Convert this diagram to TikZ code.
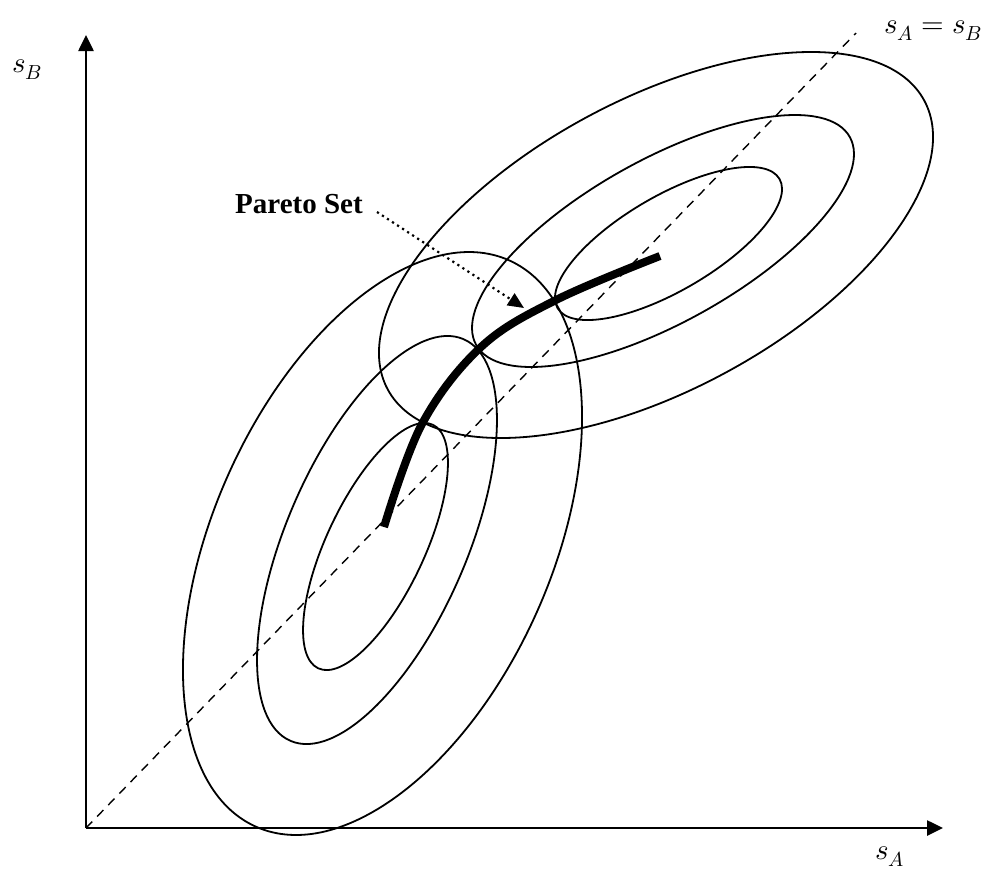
\documentclass[tikz,border=0pt]{standalone}
\usepackage{fontspec}
\usepackage{unicode-math}
\setmathfont{Latin Modern Math}
\newfontfamily\timesfont{Liberation Serif}
\usetikzlibrary{arrows.meta}
\begin{document}
\begin{tikzpicture}[x=1pt,y=-1pt,
  contour/.style={line width=1.8pt},
  axis/.style={line width=2.6pt, -{Triangle[length=16pt,width=15pt]}},
  diag/.style={line width=1.4pt, dash pattern=on 9pt off 7pt},
  pareto/.style={line width=8pt},
  pointer/.style={line width=2.2pt, dash pattern=on 2.2pt off 3.8pt, -{Triangle[length=16pt,width=14pt]}},
  mlbl/.style={inner sep=0pt, anchor=base west, font=\fontsize{29}{33}\selectfont},
  plbl/.style={inner sep=0pt, anchor=base west, font=\timesfont\bfseries\fontsize{29}{34}\selectfont},
]
\path[use as bounding box] (0,0) rectangle (999,873);

% axes and diagonal
\coordinate (O) at (86,828);
\coordinate (ytop) at (86,35);
\coordinate (xend) at (943,828);
\coordinate (dend) at (856,33);
\draw[diag] (O) -- (dend);
\draw[axis] (O) -- (ytop);
\draw[axis] (O) -- (xend);

% upper-right family
\draw[contour, rotate around={28.3:(656,245)}] (656,245) ellipse [x radius=304.7pt, y radius=145.4pt];
\draw[contour, rotate around={29.1:(663,241)}] (663,241) ellipse [x radius=213.8pt, y radius=81.4pt];
\draw[contour, rotate around={30.2:(668.5,243.5)}] (668.5,243.5) ellipse [x radius=128.4pt, y radius=47.5pt];

% lower-left family
\draw[contour, rotate around={65.9:(382.5,543.5)}] (382.5,543.5) ellipse [x radius=310.2pt, y radius=168.9pt];
\draw[contour, rotate around={66.7:(377,540)}] (377,540) ellipse [x radius=218.7pt, y radius=90.5pt];
\draw[contour, rotate around={64.8:(375.5,546.5)}] (375.5,546.5) ellipse [x radius=134.6pt, y radius=49.0pt];

% Pareto set
\draw[pareto] plot[smooth, tension=0.6] coordinates {(384,527) (422,424) (481,347) (556,300) (660,256)};

% labels
\node[mlbl] (sb) at (12,72) {$s_B$};
\node[mlbl] (eq) at (884,33) {$s_A = s_B$};
\node[mlbl] (sa) at (875,859) {$s_A$};
\node[plbl] (ps) at (235,213) {Pareto Set};
\coordinate (pstart) at (377,212);
\coordinate (ptip) at (524,308);
\draw[pointer] (pstart) -- (ptip);
\end{tikzpicture}
\end{document}
